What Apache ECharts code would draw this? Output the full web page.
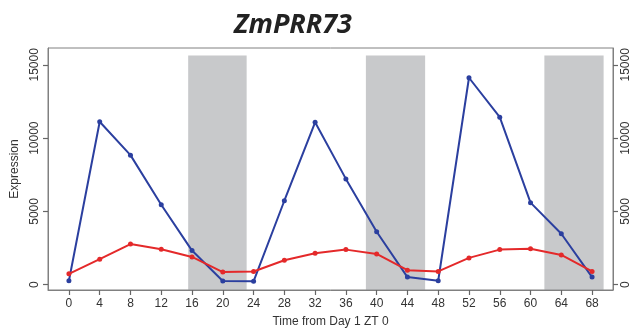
<!DOCTYPE html>
<html>
<head>
<meta charset="utf-8">
<script src="https://cdn.jsdelivr.net/npm/echarts@6/dist/echarts.min.js"></script>
<style>
  html, body { margin: 0; padding: 0; background: #fff; }
  #chart { width: 633px; height: 333px; }
</style>
</head>
<body>
<div id="chart"></div>
<script>
// Sampling times (hours from Day 1, ZT 0)
const times = [0, 4, 8, 12, 16, 20, 24, 28, 32, 36, 40, 44, 48, 52, 56, 60, 64, 68];
// Expression of the two series
const blueValues = [270, 11120, 8840, 5460, 2330, 250, 230, 5730, 11080, 7220, 3610, 520, 270, 14120, 11430, 5600, 3480, 520];
const redValues = [745, 1740, 2775, 2415, 1895, 860, 905, 1670, 2145, 2395, 2100, 995, 905, 1830, 2395, 2460, 2030, 905];
// Dark periods (start, end in hours)
const nightStarts = [15.5, 38.6, 61.8];
const nightEnds = [23.1, 46.3, 69.5];
const nightTop = 15630;
// Tick labels
const xTicks = [0, 4, 8, 12, 16, 20, 24, 28, 32, 36, 40, 44, 48, 52, 56, 60, 64, 68];
const yTicks = [0, 5000, 10000, 15000];

const FONT = '"Liberation Sans", Arial, sans-serif';
const AXIS_GRAY = '#808080';
const TICK_COLOR = '#666';
const TEXT = '#333';
const plain = (v) => String(v);

const pairs = (vals) => times.map((t, i) => [t, vals[i]]);

function yAxisDef(position) {
  return {
    type: 'value',
    position: position,
    min: -360,
    max: 16150,
    splitLine: { show: false },
    axisLine: { show: true, onZero: false, lineStyle: { color: AXIS_GRAY, width: 1 } },
    axisTick: { show: true, length: 5, lineStyle: { color: TICK_COLOR, width: 1.2 }, customValues: yTicks },
    axisLabel: {
      rotate: 90, margin: 7, fontSize: 12, color: TEXT, fontFamily: FONT,
      customValues: yTicks, formatter: plain
    }
  };
}

const leftAxis = yAxisDef('left');
leftAxis.name = 'Expression';
leftAxis.nameLocation = 'middle';
leftAxis.nameGap = 27;
leftAxis.nameTextStyle = { fontSize: 12, color: TEXT, fontFamily: FONT };

const chart = echarts.init(document.getElementById('chart'));
chart.setOption({
  animation: false,
  title: {
    text: 'ZmPRR73',
    left: 229,
    top: 7,
    textStyle: {
      fontFamily: '"Open Sans", sans-serif',
      fontStyle: 'italic',
      fontWeight: 'bold',
      fontSize: 27,
      color: '#222'
    }
  },
  grid: {
    left: 48, right: 20, top: 48, bottom: 41,
    show: true, borderColor: AXIS_GRAY, borderWidth: 1, backgroundColor: 'transparent'
  },
  xAxis: {
    type: 'value',
    min: -2.72,
    max: 70.72,
    name: 'Time from Day 1 ZT 0',
    nameLocation: 'middle',
    nameGap: 26,
    nameTextStyle: { fontSize: 12, color: TEXT, fontFamily: FONT },
    splitLine: { show: false },
    axisLine: { show: true, onZero: false, lineStyle: { color: AXIS_GRAY, width: 1 } },
    axisTick: { show: true, length: 5, lineStyle: { color: TICK_COLOR, width: 1.2 }, customValues: xTicks },
    axisLabel: { margin: 8, fontSize: 12, color: TEXT, fontFamily: FONT, customValues: xTicks, formatter: plain }
  },
  yAxis: [leftAxis, yAxisDef('right')],
  series: [
    {
      type: 'line',
      data: pairs(blueValues),
      symbol: 'circle',
      symbolSize: 5,
      lineStyle: { color: '#2b3f9f', width: 2 },
      itemStyle: { color: '#2b3f9f' },
      z: 2
    },
    {
      type: 'line',
      data: pairs(redValues),
      symbol: 'circle',
      symbolSize: 5,
      lineStyle: { color: '#e4292a', width: 2 },
      itemStyle: { color: '#e4292a' },
      z: 3
    },
    {
      // translucent shading of the dark periods, laid over the curves
      type: 'line',
      data: [],
      z: 10,
      silent: true,
      markArea: {
        silent: true,
        itemStyle: { color: 'rgba(150,152,156,0.52)' },
        data: nightStarts.map((s, i) => [
          { coord: [s, -360] },
          { coord: [nightEnds[i], nightTop] }
        ])
      }
    }
  ]
});
</script>
</body>
</html>
